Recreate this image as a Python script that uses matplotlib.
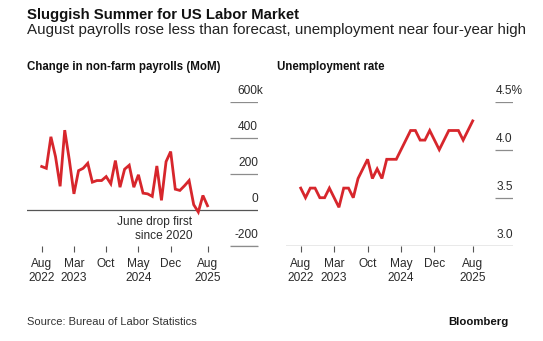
import numpy as np
import pandas as pd
import matplotlib
matplotlib.use('Agg')
import matplotlib.pyplot as plt
from matplotlib import transforms

plt.rcParams['font.family'] = ['Liberation Sans', 'DejaVu Sans']

months = pd.period_range('2022-08', '2025-08', freq='M')

# monthly change in non-farm payrolls, thousands
payrolls = [240, 230, 405, 295, 130, 442, 276, 88, 217, 230, 258, 153, 162,
            162, 184, 144, 273, 125, 225, 247, 125, 194, 92, 88, 74, 243, 52,
            267, 323, 114, 107, 133, 162, 28, -13, 79, 22]

# unemployment rate, percent
unemployment = [3.6, 3.5, 3.6, 3.6, 3.5, 3.5, 3.6, 3.5, 3.4, 3.6, 3.6, 3.5,
                3.7, 3.8, 3.9, 3.7, 3.8, 3.7, 3.9, 3.9, 3.9, 4.0, 4.1, 4.2,
                4.2, 4.1, 4.1, 4.2, 4.1, 4.0, 4.1, 4.2, 4.2, 4.2, 4.1, 4.2, 4.3]

tick_months = ['2022-08', '2023-03', '2023-10', '2024-05', '2024-12', '2025-08']
tick_labels = ['Aug\n2022', 'Mar\n2023', 'Oct', 'May\n2024', 'Dec', 'Aug\n2025']

pay_ticks = [-200, 0, 200, 400, 600]
pay_labels = ['-200', '0', '200', '400', '600k']
rate_ticks = [3.0, 3.5, 4.0, 4.5]
rate_labels = ['3.0', '3.5', '4.0', '4.5%']

red = '#d7262c'
grid_c = '#8c8c8c'
text_c = '#2a2a2a'

x = np.arange(len(months))
tick_pos = [list(months.strftime('%Y-%m')).index(m) for m in tick_months]

fig = plt.figure(figsize=(5.43, 3.41), dpi=100)
fig.patch.set_facecolor('white')

fig.text(27 / 543, 1 - 15 / 341, 'Sluggish Summer for US Labor Market',
         fontsize=10.7, fontweight='bold', color='#111111', va='center')
fig.text(27 / 543, 1 - 30 / 341,
         'August payrolls rose less than forecast, unemployment near four-year high',
         fontsize=10.9, color='#222222', va='center')
fig.text(27 / 543, 1 - 67 / 341, 'Change in non-farm payrolls (MoM)',
         fontsize=8.3, fontweight='bold', color='#111111', va='center')
fig.text(277 / 543, 1 - 67 / 341, 'Unemployment rate',
         fontsize=8.3, fontweight='bold', color='#111111', va='center')
fig.text(27 / 543, 1 - 322 / 341, 'Source: Bureau of Labor Statistics',
         fontsize=8.0, color='#333333', va='center')
fig.text(508 / 543, 1 - 322 / 341, 'Bloomberg',
         fontsize=8.2, fontweight='bold', color='#111111', va='center', ha='right')

bottom = 1 - 245.7 / 341
height = (245.7 - 101.7) / 341

ax1 = fig.add_axes([27 / 543, bottom, 231 / 543, height])
ax2 = fig.add_axes([286 / 543, bottom, 226.7 / 543, height])


def style_axes(ax, xlim, ylim, ticks, labels, overhang, grid_from, base):
    ax.set_xlim(*xlim)
    ax.set_ylim(*ylim)
    for s in ax.spines.values():
        s.set_visible(False)
    ax.set_yticks([])
    ax.set_xticks(tick_pos)
    ax.set_xticklabels(tick_labels, fontsize=8.6, color=text_c, linespacing=1.15)
    ax.tick_params(axis='x', length=4, width=0.8, color='#555555', pad=5)
    ax.axhline(base, color='#555555', lw=0.9, zorder=1)
    for i, (t, lab) in enumerate(zip(ticks, labels)):
        if t != base:
            ax.hlines(t, grid_from, xlim[1], color=grid_c, lw=0.9, zorder=1)
        # the unit on the top label hangs past the right edge
        dx = overhang if i == len(ticks) - 1 else 0
        tr = transforms.offset_copy(ax.get_yaxis_transform(), fig=fig,
                                    x=dx, y=7.8, units='points')
        ax.text(1, t, lab, transform=tr, ha='right', va='center',
                fontsize=8.6, color=text_c, clip_on=False)


style_axes(ax1, (-3.19, 46.96), (-200, 600), pay_ticks, pay_labels, 4.0, 40.9, 0)
ax1.hlines(-200, 40.9, 46.96, color=grid_c, lw=0.9, zorder=1, clip_on=False)
ax1.plot(x, payrolls, color=red, lw=2.0, solid_joinstyle='miter', zorder=3,
         clip_on=False)
ax1.text(32.7, -35, 'June drop first\nsince 2020', ha='right', va='top',
         fontsize=8.6, color=text_c, linespacing=1.2)

style_axes(ax2, (-3.08, 44.37), (3.0, 4.5), rate_ticks, rate_labels, 7.4, 40.6, 3.0)
ax2.plot(x, unemployment, color=red, lw=2.0, solid_joinstyle='miter', zorder=3)

fig.savefig('out.png', dpi=100, facecolor='white')
